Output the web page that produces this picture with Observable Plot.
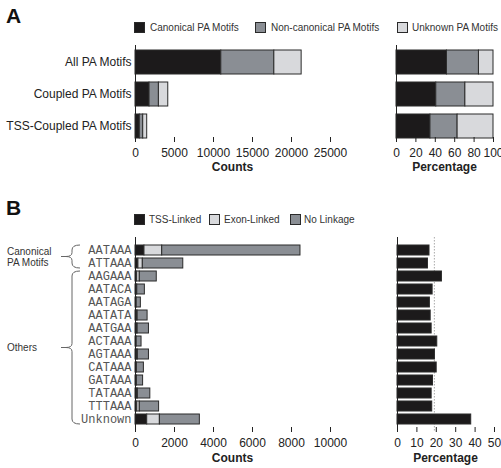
<!DOCTYPE html>
<html><head><meta charset="utf-8">
<script src="https://cdn.jsdelivr.net/npm/d3@7"></script>
<script src="https://cdn.jsdelivr.net/npm/@observablehq/plot@0.6"></script>
<style>
html,body{margin:0;padding:0;background:#fff;overflow:hidden;}
#wrap{position:relative;width:501px;height:468px;overflow:hidden;font-family:'Liberation Sans',Arial,sans-serif;}
#wrap > svg, #wrap > .p{position:absolute;}
</style></head>
<body><div id="wrap"></div>
<script>
// ---------- Panel A data ----------
const groupsA = ["All PA Motifs", "Coupled PA Motifs", "TSS-Coupled PA Motifs"];
const motifSeries = ["Canonical PA Motifs", "Non-canonical PA Motifs", "Unknown PA Motifs"];
const countsCanonical = [11000, 1800, 550];
const countsNoncanonical = [6800, 1200, 440];
const countsUnknown = [3500, 1200, 510];
const pctCanonical = [52, 41, 35];
const pctNoncanonical = [33, 30, 28];
const pctUnknown = [15, 29, 37];
const countTicksA = [0, 5000, 10000, 15000, 20000, 25000];
const pctTicksA = [0, 20, 40, 60, 80, 100];

// ---------- Panel B data ----------
const motifsB = ["AATAAA", "ATTAAA", "AAGAAA", "AATACA", "AATAGA", "AATATA", "AATGAA", "ACTAAA", "AGTAAA", "CATAAA", "GATAAA", "TATAAA", "TTTAAA", "Unknown"];
const linkSeries = ["TSS-Linked", "Exon-Linked", "No Linkage"];
const tssLinked = [460, 150, 85, 60, 40, 70, 70, 40, 70, 40, 40, 70, 90, 600];
const exonLinked = [910, 225, 135, 30, 20, 40, 40, 20, 50, 30, 30, 50, 130, 650];
const noLinkage = [7090, 2075, 870, 390, 215, 510, 580, 250, 570, 360, 320, 640, 990, 2050];
const tssPct = [16.5, 15.7, 22.9, 18.1, 16.7, 17.1, 17.6, 20.5, 19.3, 20.2, 18.3, 17.6, 17.9, 38];
const tssPctReference = 19;
const countTicksB = [0, 2000, 4000, 6000, 8000, 10000];
const pctTicksB = [0, 10, 20, 30, 40, 50];
const braceGroups = [
  {label: ["Canonical", "PA Motifs"], from: "AATAAA", to: "ATTAAA"},
  {label: ["Others"], from: "AAGAAA", to: "Unknown"}
];

// ---------- colours ----------
const motifColors = ["#1c1a1b", "#8a8e94", "#d8d9dc"];
const linkColors = ["#1c1a1b", "#d8d9dc", "#8a8e94"];
const edge = "#2a2a2a";
const font = "'Liberation Sans', Arial, sans-serif";

// ---------- tidy tables ----------
const tableA = (a, b, c) => groupsA.flatMap((g, i) => [
  {group: g, series: motifSeries[0], value: a[i]},
  {group: g, series: motifSeries[1], value: b[i]},
  {group: g, series: motifSeries[2], value: c[i]}
]);
const countsA = tableA(countsCanonical, countsNoncanonical, countsUnknown);
const pctA = tableA(pctCanonical, pctNoncanonical, pctUnknown);
const countsB = motifsB.flatMap((m, i) => [
  {motif: m, series: linkSeries[0], value: tssLinked[i]},
  {motif: m, series: linkSeries[1], value: exonLinked[i]},
  {motif: m, series: linkSeries[2], value: noLinkage[i]}
]);
const pctB = motifsB.map((m, i) => ({motif: m, value: tssPct[i]}));

const wrap = document.getElementById("wrap");
function place(node, left, top) {
  node.style.left = left + "px"; node.style.top = top + "px";
  wrap.appendChild(node);
}
const baseStyle = {fontFamily: font, fontSize: "12px", color: "#222", background: "transparent", overflow: "visible"};
const xAxis = (ticks) => Plot.axisX(ticks, {tickSize: -5, tickPadding: 11, line: true, stroke: "#222", fill: "#222", fontSize: 12, tickFormat: d3.format("d")});

// ---------- Panel A: counts ----------
place(Plot.plot({
  width: 340, height: 145,
  marginLeft: 135, marginRight: 10, marginTop: 10, marginBottom: 38,
  style: baseStyle,
  x: {domain: [0, 25000], label: null, axis: null},
  y: {domain: groupsA, paddingInner: 0.25, paddingOuter: 0.14, label: null, axis: null},
  color: {domain: motifSeries, range: motifColors},
  marks: [
    Plot.barX(countsA, {y: "group", x: "value", fill: "series", stroke: edge, strokeWidth: 1}),
    Plot.ruleX([0], {stroke: "#222"}),
    Plot.axisY({tickSize: 0, tickPadding: 4, fontSize: 12, fill: "#222"}),
    xAxis(countTicksA)
  ]
}), 0, 35);

// ---------- Panel A: percentage ----------
place(Plot.plot({
  width: 170, height: 145,
  marginLeft: 56, marginRight: 17, marginTop: 10, marginBottom: 38,
  style: baseStyle,
  x: {domain: [0, 100], label: null, axis: null},
  y: {domain: groupsA, paddingInner: 0.25, paddingOuter: 0.14, label: null, axis: null},
  color: {domain: motifSeries, range: motifColors},
  marks: [
    Plot.barX(pctA, {y: "group", x: "value", fill: "series", stroke: edge, strokeWidth: 1}),
    Plot.ruleX([0], {stroke: "#222"}),
    xAxis(pctTicksA)
  ]
}), 340, 35);

// ---------- Panel B: counts with braces ----------
function braces(index, scales) {
  const y = scales.y;
  const bw = y.bandwidth ? y.bandwidth() : 11;
  const g = d3.create("svg:g").attr("fill", "none").attr("stroke", "#666").attr("stroke-width", 1);
  for (const b of braceGroups) {
    const top = y(b.from), bot = y(b.to) + bw, mid = (top + bot) / 2;
    const xr = 80, xv = 72, xt = 66;
    g.append("path").attr("d",
      `M${xr},${top}Q${xv},${top} ${xv},${top + 5}L${xv},${mid - 4}Q${xv},${mid} ${xt},${mid}` +
      `Q${xv},${mid} ${xv},${mid + 4}L${xv},${bot - 5}Q${xv},${bot} ${xr},${bot}M${xt - 5},${mid}L${xt},${mid}`);
    const t = g.append("text").attr("stroke", "none").attr("fill", "#333")
      .attr("text-anchor", "start").attr("font-size", 10).attr("x", 7)
      .attr("y", mid - (b.label.length - 1) * 5.5);
    b.label.forEach((s, k) => t.append("tspan").attr("x", 7).attr("dy", k === 0 ? "0.35em" : "1.15em").text(s));
  }
  return g.node();
}
place(Plot.plot({
  width: 340, height: 241,
  marginLeft: 135, marginRight: 10, marginTop: 10, marginBottom: 36,
  style: baseStyle,
  x: {domain: [0, 10000], label: null, axis: null},
  y: {domain: motifsB, paddingInner: 0.2, paddingOuter: 0.1, label: null, axis: null},
  color: {domain: linkSeries, range: linkColors},
  marks: [
    Plot.barX(countsB, {y: "motif", x: "value", fill: "series", stroke: edge, strokeWidth: 1}),
    Plot.ruleX([0], {stroke: "#222"}),
    Plot.axisY({tickSize: 0, tickPadding: 4, fontSize: 12, fontFamily: "'Liberation Mono', 'Courier New', monospace", fill: "#555"}),
    xAxis(countTicksB),
    braces
  ]
}), 0, 227);

// ---------- Panel B: percentage ----------
place(Plot.plot({
  width: 170, height: 241,
  marginLeft: 57, marginRight: 16, marginTop: 10, marginBottom: 36,
  style: baseStyle,
  x: {domain: [0, 50], label: null, axis: null},
  y: {domain: motifsB, paddingInner: 0.2, paddingOuter: 0.1, label: null, axis: null},
  marks: [
    Plot.ruleX([tssPctReference], {stroke: "#aaa", strokeDasharray: "1.5,1.5"}),
    Plot.barX(pctB, {y: "motif", x: "value", fill: motifColors[0], stroke: edge, strokeWidth: 1}),
    Plot.ruleX([0], {stroke: "#222"}),
    xAxis(pctTicksB)
  ]
}), 340, 227);

// ---------- overlay: panel letters, legends, axis titles ----------
const ov = d3.create("svg").attr("width", 501).attr("height", 468)
  .style("left", "0px").style("top", "0px").style("pointer-events", "none")
  .attr("font-family", font);
ov.append("text").attr("x", 6).attr("y", 23).attr("font-size", 21).attr("font-weight", "bold").attr("fill", "#111").text("A");
ov.append("text").attr("x", 6).attr("y", 215).attr("font-size", 21).attr("font-weight", "bold").attr("fill", "#111").text("B");
function legend(items, colors, xs, ySq) {
  items.forEach((s, i) => {
    ov.append("rect").attr("x", xs[i][0] + 0.5).attr("y", ySq + 0.5).attr("width", 10).attr("height", 10)
      .attr("fill", colors[i]).attr("stroke", edge);
    ov.append("text").attr("x", xs[i][1]).attr("y", ySq + 5.5).attr("dy", "0.35em")
      .attr("font-size", 10).attr("fill", "#333").text(s);
  });
}
legend(motifSeries, motifColors, [[134, 150], [255, 271], [397, 412]], 22);
legend(linkSeries, linkColors, [[134, 149], [209, 224], [290, 304]], 214);
const title = (t, x, y) => ov.append("text").attr("x", x).attr("y", y).attr("text-anchor", "middle")
  .attr("dy", "0.35em").attr("font-size", 12).attr("font-weight", "bold").attr("fill", "#222").text(t);
title("Counts", 232.5, 167);
title("Percentage", 444.5, 167);
title("Counts", 232.5, 458);
title("Percentage", 445.5, 458);
place(ov.node(), 0, 0);
</script></body></html>
